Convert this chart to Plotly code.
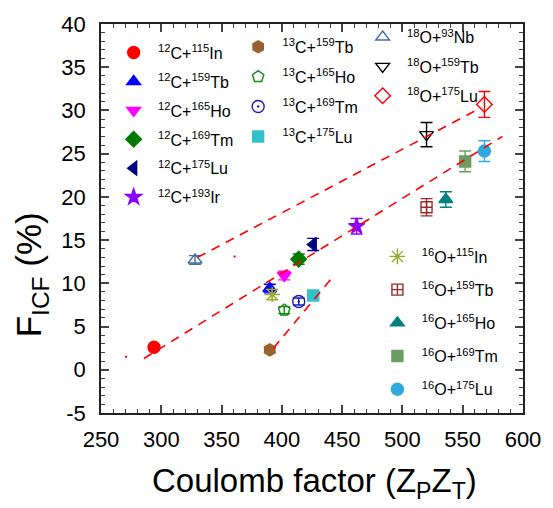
import plotly.graph_objects as go

# ---------------- data ----------------
names_12C = ["<sup>12</sup>C+<sup>115</sup>In", "<sup>12</sup>C+<sup>159</sup>Tb", "<sup>12</sup>C+<sup>165</sup>Ho",
             "<sup>12</sup>C+<sup>169</sup>Tm", "<sup>12</sup>C+<sup>175</sup>Lu", "<sup>12</sup>C+<sup>193</sup>Ir"]
zpzt_12C = [294, 390, 402, 414, 426, 462]
ficf_12C = [2.6, 9.4, 10.9, 12.8, 14.5, 16.6]
err_12C = [0.3, 0.5, 0.5, 0.6, 0.7, 0.9]

names_13C = ["<sup>13</sup>C+<sup>159</sup>Tb", "<sup>13</sup>C+<sup>165</sup>Ho",
             "<sup>13</sup>C+<sup>169</sup>Tm", "<sup>13</sup>C+<sup>175</sup>Lu"]
zpzt_13C = [390, 402, 414, 426]
ficf_13C = [2.3, 6.9, 7.9, 8.6]
err_13C = [0.3, 0.4, 0.4, 0.4]

names_18O = ["<sup>18</sup>O+<sup>93</sup>Nb", "<sup>18</sup>O+<sup>159</sup>Tb", "<sup>18</sup>O+<sup>175</sup>Lu"]
zpzt_18O = [328, 520, 568]
ficf_18O = [12.7, 27.2, 30.7]
err_18O = [0.5, 1.4, 1.5]

names_16O = ["<sup>16</sup>O+<sup>115</sup>In", "<sup>16</sup>O+<sup>159</sup>Tb", "<sup>16</sup>O+<sup>165</sup>Ho",
             "<sup>16</sup>O+<sup>169</sup>Tm", "<sup>16</sup>O+<sup>175</sup>Lu"]
zpzt_16O = [392, 520, 536, 552, 568]
ficf_16O = [8.7, 18.8, 19.7, 24.1, 25.3]
err_16O = [0.6, 1.0, 0.9, 1.2, 1.2]

# dashed guide lines (end points)
fit_upper_x = [330, 565]
fit_upper_y = [13.0, 30.3]
fit_main_x = [285.6, 583]
fit_main_y = [1.3, 27.0]
fit_13C_x = [393, 442]
fit_13C_y = [2.5, 10.7]
stray_x = [270.7, 360.8]
stray_y = [1.5, 13.1]

y_tickvals = [-5, 0, 5, 10, 15, 20, 25, 30, 35, 40]
y_ticktext = ["-5", "0", "5", "10", "15", "20", "25", "30", "35", "40"]

# ---------------- styles ----------------
sty_12C = [("circle", "#ff0000", True), ("triangle-up", "#0000ff", True), ("triangle-down", "#ff00ff", True),
           ("diamond", "#007a00", True), ("triangle-left", "#000080", True), ("star", "#8a00ff", True)]
sty_13C = [("hexagon", "#9a6230", True), ("pentagon-open", "#118811", False),
           ("circle-open-dot", "#1a1ab8", False), ("square", "#33c2cc", True)]
sty_18O = [("triangle-up-open", "#3f6fa6", False), ("triangle-down-open", "#000000", False),
           ("diamond-open", "#ff0000", False)]
sty_16O = [("asterisk-open", "#9aaa2c", False), ("square-cross-open", "#9a2a2a", False),
           ("triangle-up", "#008080", True), ("square", "#6b9c62", True), ("circle", "#33a8dc", True)]

FONT = "Liberation Sans, Arial, sans-serif"
fig = go.Figure()


def add_group(names, xs, ys, errs, styles, legend):
    for i, (n, x, y, e, (sym, col, filled)) in enumerate(zip(names, xs, ys, errs, styles)):
        size = 12
        if sym.startswith("square"):
            size = 11
        if sym.startswith("asterisk"):
            size = 13
        fig.add_trace(go.Scatter(
            x=[x], y=[y], mode="markers", name="\u00a0" + n,
            legend=legend, legendgroup=f"{legend}_{i}",
            marker=dict(symbol=sym, size=size, color=col,
                        line=dict(color=col, width=1.4)),
            error_y=dict(type="data", array=[e], visible=True, color=col, thickness=1.4, width=6),
        ))


add_group(names_12C, zpzt_12C, ficf_12C, err_12C, sty_12C, "legend")
add_group(names_13C, zpzt_13C, ficf_13C, err_13C, sty_13C, "legend2")
add_group(names_18O, zpzt_18O, ficf_18O, err_18O, sty_18O, "legend3")
add_group(names_16O, zpzt_16O, ficf_16O, err_16O, sty_16O, "legend4")

for fx, fy in [(fit_upper_x, fit_upper_y), (fit_main_x, fit_main_y), (fit_13C_x, fit_13C_y)]:
    fig.add_trace(go.Scatter(x=fx, y=fy, mode="lines", showlegend=False,
                             line=dict(color="#ff0000", width=1.6, dash="9px,7px")))
fig.add_trace(go.Scatter(x=stray_x, y=stray_y, mode="markers", showlegend=False,
                         marker=dict(color="#ff0000", size=2, symbol="square")))

axis_common = dict(showline=True, linecolor="#222222", linewidth=1.5, mirror="ticks",
                   ticks="inside", ticklen=8, tickwidth=1.5, tickcolor="#444444",
                   showgrid=False, zeroline=False,
                   tickfont=dict(family=FONT, size=22, color="#000000"))

fig.update_xaxes(range=[250, 600], dtick=50, tick0=250, ticklabelstandoff=6,
                 minor=dict(ticks="inside", ticklen=4, dtick=10, tickcolor="#444444", tickwidth=1.2),
                 **axis_common)
fig.update_yaxes(range=[-5, 40], tickmode="array", tickvals=y_tickvals, ticktext=y_ticktext,
                 ticklabelstandoff=9,
                 minor=dict(ticks="inside", ticklen=4, dtick=1, tick0=0, tickcolor="#444444", tickwidth=1.2),
                 **axis_common)

leg_common = dict(font=dict(family=FONT, size=16, color="#000000"), bgcolor="rgba(0,0,0,0)",
                  borderwidth=0, xanchor="left", yanchor="top", traceorder="grouped",
                  itemclick=False, itemdoubleclick=False)

fig.update_layout(
    width=553, height=508,
    margin=dict(l=101, r=29, t=18, b=95),
    plot_bgcolor="white", paper_bgcolor="white",
    font=dict(family=FONT, color="#000000"),
    legend=dict(x=0.03, y=0.97, tracegroupgap=5.1, **leg_common),
    legend2=dict(x=0.325, y=0.985, tracegroupgap=6.1, **leg_common),
    legend3=dict(x=0.62, y=1.01, tracegroupgap=5.6, **leg_common),
    legend4=dict(x=0.655, y=0.446, tracegroupgap=9.4, **leg_common),
    annotations=[
        dict(text="Coulomb factor (Z<sub>P</sub>Z<sub>T</sub>)", xref="paper", yref="paper",
             x=0.505, y=-0.18, xanchor="center", yanchor="middle", showarrow=False,
             font=dict(family=FONT, size=33, color="#000000")),
        dict(text="F<sub>ICF</sub> (%)", xref="paper", yref="paper",
             x=-0.165, y=0.355, xanchor="center", yanchor="middle", showarrow=False, textangle=-90,
             font=dict(family=FONT, size=35, color="#000000")),
    ],
)

fig.write_html("out.html")
